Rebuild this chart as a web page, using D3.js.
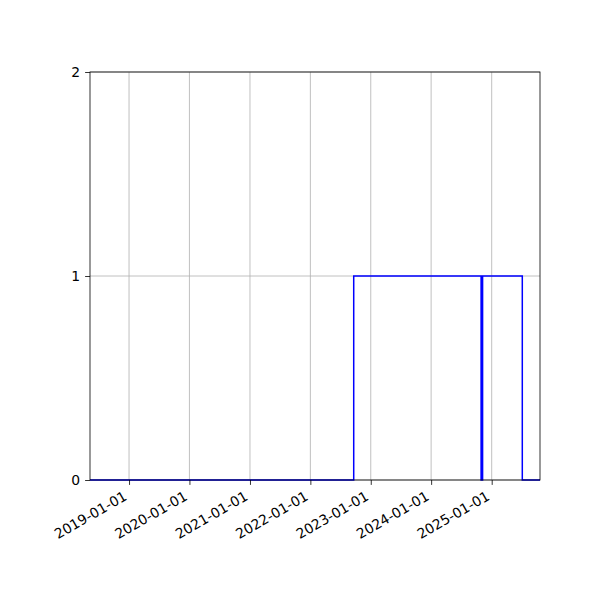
<!DOCTYPE html>
<html><head><meta charset="utf-8">
<script src="https://cdn.jsdelivr.net/npm/d3@7"></script>
<style>body{margin:0;background:#fff}text{font-family:"DejaVu Sans",sans-serif;}</style>
</head><body><svg id="c" width="600" height="600"></svg>
<script>
const stepDates = ["2018-05-10","2022-09-20","2024-10-29","2024-11-07","2025-07-05","2025-10-20"];
const stepValues = [0, 1, 0, 1, 0, 0];
const xTickLabels = ["2019-01-01","2020-01-01","2021-01-01","2022-01-01","2023-01-01","2024-01-01","2025-01-01"];
const yTickValues = [0, 1, 2];
const xDomain = ["2018-05-10","2025-10-20"];

const parse = d3.utcParse("%Y-%m-%d");
const svg = d3.select("#c");
const L=90,R=540,T=72,B=480;
const x = d3.scaleUtc().domain(xDomain.map(parse)).range([L,R]);
const y = d3.scaleLinear().domain([0,2]).range([B,T]);
const data = stepDates.map((d,i)=>({d:parse(d), v:stepValues[i]}));

// grid
svg.append("g").selectAll("line").data(xTickLabels).join("line")
  .attr("x1",d=>x(parse(d))).attr("x2",d=>x(parse(d))).attr("y1",T).attr("y2",B)
  .attr("stroke","#b0b0b0").attr("stroke-width",0.8);
svg.append("g").selectAll("line").data(yTickValues).join("line")
  .attr("y1",d=>y(d)).attr("y2",d=>y(d)).attr("x1",L).attr("x2",R)
  .attr("stroke","#b0b0b0").attr("stroke-width",0.8);

// line
const line = d3.line().x(d=>x(d.d)).y(d=>y(d.v)).curve(d3.curveStepAfter);
svg.append("path").datum(data).attr("d",line).attr("fill","none")
  .attr("stroke","#0000ff").attr("stroke-width",1.5).attr("stroke-linejoin","miter").attr("stroke-linecap","butt");

// axes
const xAxis = d3.axisBottom(x).tickValues(xTickLabels.map(parse)).tickSize(4.9).tickPadding(4.9).tickFormat(d3.utcFormat("%Y-%m-%d"));
const gx = svg.append("g").attr("transform",`translate(0,${B})`).call(xAxis);
gx.select(".domain").remove();
gx.selectAll(".tick line").attr("stroke","#000").attr("stroke-width",0.8);
gx.selectAll(".tick text").attr("font-size",13.9).attr("fill","#000")
  .attr("text-anchor","end").attr("dy",null).attr("y",null)
  .attr("transform","translate(-1.6,19) rotate(-30)");

const yAxis = d3.axisLeft(y).tickValues(yTickValues).tickSize(4.9).tickPadding(4.9).tickFormat(d3.format("d"));
const gy = svg.append("g").attr("transform",`translate(${L},0)`).call(yAxis);
gy.select(".domain").remove();
gy.selectAll(".tick line").attr("stroke","#000").attr("stroke-width",0.8);
gy.selectAll(".tick text").attr("font-size",13.9).attr("fill","#000");

// spines
svg.append("rect").attr("x",L).attr("y",T).attr("width",R-L).attr("height",B-T)
  .attr("fill","none").attr("stroke","#000").attr("stroke-width",0.8);
</script></body></html>
